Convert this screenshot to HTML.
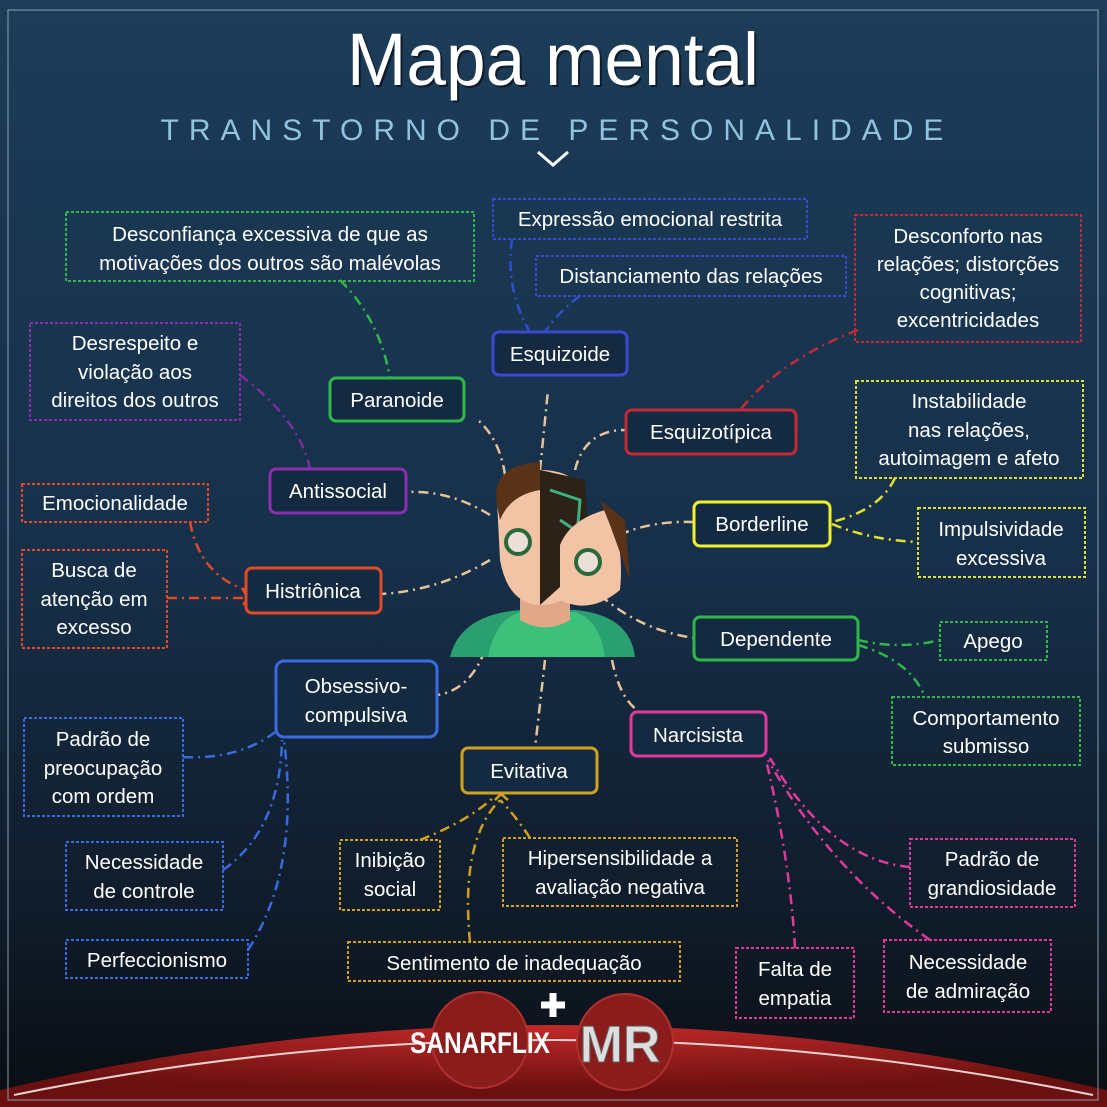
<!DOCTYPE html><html><head><meta charset="utf-8"><style>html,body{margin:0;padding:0;background:#0b1520}svg{display:block}text{font-family:"Liberation Sans",sans-serif}</style></head><body>
<svg width="1107" height="1107" viewBox="0 0 1107 1107" xmlns="http://www.w3.org/2000/svg">
<defs>
<linearGradient id="bg" x1="0" y1="0" x2="0" y2="1"><stop offset="0" stop-color="#1c3c58"/><stop offset="0.5" stop-color="#17304a"/><stop offset="0.85" stop-color="#0f1a27"/><stop offset="1" stop-color="#0a0d12"/></linearGradient>
<radialGradient id="red" cx="0.5" cy="0" r="0.8"><stop offset="0" stop-color="#c42a2a"/><stop offset="1" stop-color="#6a1010"/></radialGradient>
</defs>
<rect width="1107" height="1107" fill="url(#bg)"/>
<path d="M0 1107 L0 1090 Q553 960 1107 1090 L1107 1107Z" fill="url(#red)"/>
<path d="M14 1095 Q553 985 1093 1095" fill="none" stroke="#e8d0d0" stroke-width="2"/>
<rect x="8" y="10" width="1090" height="1090" fill="none" stroke="#9fb4c4" stroke-width="1.2" opacity="0.7"/>
<text x="555" y="87" text-anchor="middle" font-size="74" fill="#000" opacity="0.5" textLength="412" lengthAdjust="spacingAndGlyphs">Mapa mental</text>
<text x="553" y="85" text-anchor="middle" font-size="74" fill="#fff" textLength="412" lengthAdjust="spacingAndGlyphs">Mapa mental</text>
<text x="557" y="140" text-anchor="middle" font-size="30" fill="#8fc3df" letter-spacing="10">TRANSTORNO DE PERSONALIDADE</text>
<path d="M538 152 L553 165 L568 152" fill="none" stroke="#fff" stroke-width="3"/>

<g fill="none" stroke-width="2.5" stroke-dasharray="10 5 2 5">
<g stroke="#e6c49a">
<path d="M505 475 Q500 440 478 420"/><path d="M540 470 L548 390"/><path d="M575 470 Q585 430 625 430"/>
<path d="M490 515 Q450 490 406 492"/><path d="M490 560 Q440 590 382 594"/><path d="M600 545 Q640 520 694 522"/>
<path d="M600 595 Q640 630 694 638"/><path d="M485 650 Q470 690 437 695"/><path d="M545 660 L535 748"/><path d="M612 660 Q620 700 640 712"/>
</g>
<path stroke="#2fb84a" d="M340 280 Q380 320 390 378"/>
<path stroke="#2f4fd0" d="M512 239 Q505 290 530 332"/><path stroke="#2f4fd0" d="M580 296 Q560 310 545 332"/>
<path stroke="#c42a35" d="M858 330 Q780 360 740 410"/>
<path stroke="#7a2fa0" d="M240 375 Q300 420 310 469"/>
<path stroke="#e0e030" d="M895 478 Q880 510 832 522"/><path stroke="#e0e030" d="M832 524 Q870 540 918 542"/>
<path stroke="#e04a2a" d="M190 522 Q200 575 246 590"/><path stroke="#e04a2a" d="M167 598 L246 598"/>
<path stroke="#2fb84a" d="M858 640 Q900 650 940 640"/><path stroke="#2fb84a" d="M858 645 Q910 660 925 697"/>
<path stroke="#3a6ae0" d="M183 757 Q240 760 278 730"/><path stroke="#3a6ae0" d="M223 870 Q280 830 282 740"/><path stroke="#3a6ae0" d="M248 950 Q300 870 284 740"/>
<path stroke="#d0a020" d="M420 840 Q470 820 495 796"/><path stroke="#d0a020" d="M530 838 Q515 815 500 800"/><path stroke="#d0a020" d="M470 942 Q460 840 500 800"/>
<path stroke="#e03a9a" d="M910 867 Q830 860 770 758"/><path stroke="#e03a9a" d="M930 940 Q830 870 768 760"/><path stroke="#e03a9a" d="M795 948 Q790 860 766 760"/>
</g>
<path d="M495 800 L501 794 L508 800" fill="none" stroke="#d0a020" stroke-width="2.5"/>
<path d="M243 590 L248 598 L243 605" fill="none" stroke="#e04a2a" stroke-width="2.5"/>

<g>
<path d="M450 657 Q460 615 520 610 L575 610 Q630 615 635 657Z" fill="#2aa070"/>
<path d="M488 657 Q495 620 520 612 L575 612 Q600 620 605 657Z" fill="#3cc07a"/>
<path d="M520 590 L520 620 Q545 635 570 620 L570 590Z" fill="#e0a888"/>
<path d="M497 500 Q495 470 540 470 Q585 470 585 510 L585 560 Q575 605 542 605 Q508 605 500 560Z" fill="#f2c3a5"/>
<path d="M540 470 L585 480 L590 560 L540 605Z" fill="#2c2218"/>
<path d="M550 490 L580 500 L575 560 M560 520 L575 530" stroke="#3fb080" stroke-width="3" fill="none"/>
<path d="M560 545 Q570 520 605 510 Q625 540 620 590 Q590 615 560 600Z" fill="#f2c3a5"/>
<path d="M600 500 L625 520 L630 580 L610 525Z" fill="#5a3218"/>
<path d="M497 505 Q490 465 540 462 L540 490 Q510 495 500 520Z" fill="#5a3218"/>
<circle cx="518" cy="542" r="12" fill="#eae0d8" stroke="#2a6a3a" stroke-width="4"/>
<circle cx="588" cy="562" r="12" fill="#eae0d8" stroke="#2a6a3a" stroke-width="4"/>
</g>

<g font-size="20.5" fill="#fff" text-anchor="middle">
<g fill="none" stroke-width="2" stroke-dasharray="3 2">
<rect x="66" y="212" width="408" height="69" stroke="#2fb84a"/>
<rect x="493" y="199" width="314" height="40" stroke="#3a4ad0"/>
<rect x="536" y="256" width="310" height="40" stroke="#3a4ad0"/>
<rect x="855" y="215" width="226" height="127" stroke="#c42a35"/>
<rect x="30" y="323" width="210" height="97" stroke="#8a2fb0"/>
<rect x="856" y="381" width="227" height="97" stroke="#e0e030"/>
<rect x="22" y="484" width="186" height="38" stroke="#e04a2a"/>
<rect x="918" y="508" width="167" height="69" stroke="#e0e030"/>
<rect x="22" y="550" width="145" height="98" stroke="#e04a2a"/>
<rect x="940" y="622" width="107" height="38" stroke="#2fb84a"/>
<rect x="892" y="697" width="188" height="68" stroke="#2fb84a"/>
<rect x="24" y="718" width="159" height="98" stroke="#3a6ae0"/>
<rect x="66" y="842" width="157" height="68" stroke="#3a6ae0"/>
<rect x="340" y="840" width="100" height="70" stroke="#d0a020"/>
<rect x="503" y="838" width="234" height="68" stroke="#d0a020"/>
<rect x="910" y="839" width="165" height="68" stroke="#e03a9a"/>
<rect x="66" y="940" width="182" height="38" stroke="#3a6ae0"/>
<rect x="348" y="942" width="332" height="39" stroke="#d0a020"/>
<rect x="736" y="948" width="118" height="70" stroke="#e03a9a"/>
<rect x="884" y="940" width="167" height="72" stroke="#e03a9a"/>
</g>
<g fill="#142a40" stroke-width="3">
<rect x="493" y="332" width="134" height="43" rx="6" stroke="#3a4ad0"/>
<rect x="330" y="378" width="134" height="43" rx="6" stroke="#2fb84a"/>
<rect x="626" y="410" width="170" height="44" rx="6" stroke="#c42a35"/>
<rect x="270" y="469" width="136" height="44" rx="6" stroke="#8a2fb0"/>
<rect x="694" y="502" width="136" height="44" rx="6" stroke="#f0f030"/>
<rect x="246" y="568" width="135" height="45" rx="6" stroke="#e04a2a"/>
<rect x="694" y="617" width="164" height="43" rx="6" stroke="#2fb84a"/>
<rect x="276" y="661" width="161" height="76" rx="8" stroke="#3a6ae0"/>
<rect x="631" y="712" width="135" height="44" rx="6" stroke="#e03a9a"/>
<rect x="462" y="748" width="135" height="45" rx="6" stroke="#d0a020"/>
</g>
<text x="270" y="241">Desconfiança excessiva de que as</text><text x="270" y="270">motivações dos outros são malévolas</text>
<text x="650" y="226">Expressão emocional restrita</text>
<text x="691" y="283">Distanciamento das relações</text>
<text x="968" y="243">Desconforto nas</text><text x="968" y="271">relações; distorções</text><text x="968" y="299">cognitivas;</text><text x="968" y="327">excentricidades</text>
<text x="560" y="361">Esquizoide</text>
<text x="135" y="350">Desrespeito e</text><text x="135" y="379">violação aos</text><text x="135" y="407">direitos dos outros</text>
<text x="397" y="407">Paranoide</text>
<text x="711" y="439">Esquizotípica</text>
<text x="969" y="408">Instabilidade</text><text x="969" y="437">nas relações,</text><text x="969" y="465">autoimagem e afeto</text>
<text x="338" y="498">Antissocial</text>
<text x="115" y="510">Emocionalidade</text>
<text x="762" y="531">Borderline</text>
<text x="1001" y="536">Impulsividade</text><text x="1001" y="565">excessiva</text>
<text x="94" y="577">Busca de</text><text x="94" y="606">atenção em</text><text x="94" y="634">excesso</text>
<text x="313" y="598">Histriônica</text>
<text x="776" y="646">Dependente</text>
<text x="993" y="648">Apego</text>
<text x="356" y="693">Obsessivo-</text><text x="356" y="722">compulsiva</text>
<text x="986" y="725">Comportamento</text><text x="986" y="753">submisso</text>
<text x="698" y="742">Narcisista</text>
<text x="103" y="746">Padrão de</text><text x="103" y="775">preocupação</text><text x="103" y="803">com ordem</text>
<text x="529" y="778">Evitativa</text>
<text x="144" y="869">Necessidade</text><text x="144" y="898">de controle</text>
<text x="390" y="867">Inibição</text><text x="390" y="896">social</text>
<text x="620" y="865">Hipersensibilidade a</text><text x="620" y="894">avaliação negativa</text>
<text x="992" y="866">Padrão de</text><text x="992" y="895">grandiosidade</text>
<text x="157" y="967">Perfeccionismo</text>
<text x="514" y="970">Sentimento de inadequação</text>
<text x="795" y="976">Falta de</text><text x="795" y="1005">empatia</text>
<text x="968" y="969">Necessidade</text><text x="968" y="998">de admiração</text>
</g>

<circle cx="480" cy="1040" r="48" fill="#8a1c1c" stroke="#b03030" stroke-width="2"/>
<circle cx="625" cy="1042" r="48" fill="#8a1c1c" stroke="#b03030" stroke-width="2"/>
<path d="M553 993 v24 M541 1005 h24" stroke="#fff" stroke-width="7"/>
<text x="480" y="1053" text-anchor="middle" font-size="30" font-weight="bold" fill="#fff" textLength="140" lengthAdjust="spacingAndGlyphs">SANARFLIX</text>
<text x="620" y="1062" text-anchor="middle" font-size="52" font-weight="bold" fill="#ddd" stroke="#666" stroke-width="1">MR</text>
</svg>
</body></html>
